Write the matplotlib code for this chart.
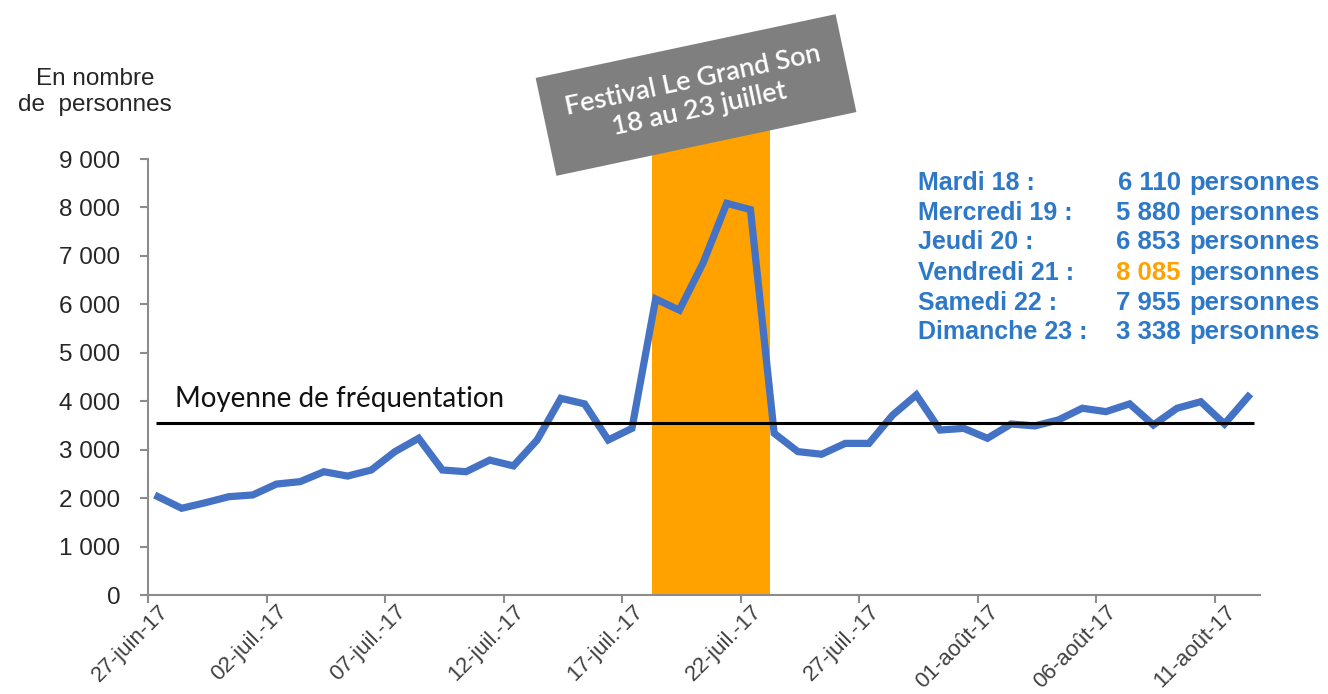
import numpy as np
import matplotlib
matplotlib.use("Agg")
import matplotlib.pyplot as plt
from matplotlib.ticker import FuncFormatter
import matplotlib.transforms as mtransforms

# frequentation journaliere, du 27 juin au 12 aout 2017
visiteurs = [2030, 1790, 1905, 2030, 2065, 2290, 2340, 2545, 2455, 2580,
             2960, 3235, 2580, 2545, 2785, 2665, 3200, 4060, 3945, 3200,
             3440, 6110, 5880, 6853, 8085, 7955, 3338, 2960, 2905, 3130,
             3130, 3715, 4130, 3405, 3440, 3235, 3530, 3490, 3615, 3855,
             3785, 3945, 3510, 3855, 3990, 3530, 4095]
moyenne = 3550
tick_labels = ["27-juin-17", "02-juil.-17", "07-juil.-17", "12-juil.-17",
               "17-juil.-17", "22-juil.-17", "27-juil.-17", "01-août-17",
               "06-août-17", "11-août-17"]
festival_debut = 21  # 18 juillet
festival_fin = 26    # 23 juillet
jours_festival = ["Mardi 18 :", "Mercredi 19 :", "Jeudi 20 :",
                  "Vendredi 21 :", "Samedi 22 :", "Dimanche 23 :"]
chiffres_festival = ["6 110", "5 880", "6 853", "8 085", "7 955", "3 338"]

bleu = "#4472C4"
bleu_txt = "#2E78C8"
orange = "#FFA200"
gris = "#8C8C8C"

W, H = 1328, 694
fig = plt.figure(figsize=(W / 100, H / 100), dpi=100)
ax = fig.add_axes([148 / W, 1 - 595 / H, (1260 - 148) / W, (595 - 159) / H])

x = np.arange(len(visiteurs))
ax.axvspan(festival_debut - 0.15, festival_fin - 0.17, ymin=0, ymax=10000 / 9000,
           color=orange, lw=0, clip_on=False, zorder=1)
ax.plot(x, visiteurs, color=bleu, lw=5.2, solid_joinstyle="miter", zorder=3)
ax.hlines(moyenne, -0.08, len(visiteurs) - 0.75, color="black", lw=2.2, zorder=4)
ax.text(0.7, moyenne + 230, "Moyenne de fréquentation", fontsize=20,
        family="Lato", color="#111111", va="bottom", ha="left")

ax.set_xlim(-0.42, len(visiteurs) - 0.5)
ax.set_ylim(0, 9000)
ax.set_yticks(np.arange(0, 9001, 1000))
ax.yaxis.set_major_formatter(FuncFormatter(lambda v, p: f"{int(v):,}".replace(",", " ")))
xt = np.arange(0, len(visiteurs), 5) - 0.4
ax.set_xticks(xt)
ax.set_xticklabels([])
# dates ecrites a la main, decalees vers la droite comme dans Excel
trans = mtransforms.blended_transform_factory(ax.transData, ax.transAxes) + \
    mtransforms.ScaledTranslation(10 / 100, -6 / 100, fig.dpi_scale_trans)
for pos, lab in zip(xt, tick_labels):
    ax.text(pos, 0, lab, transform=trans, rotation=45, ha="right", va="top",
            rotation_mode="anchor", fontsize=16, family="Liberation Sans",
            color="#404040", clip_on=False)
for lab in ax.get_yticklabels():
    lab.set_family("Liberation Sans")
    lab.set_fontsize(17.5)
    lab.set_color("#262626")

for s in ["top", "right"]:
    ax.spines[s].set_visible(False)
for s in ["left", "bottom"]:
    ax.spines[s].set_color(gris)
    ax.spines[s].set_linewidth(1.5)
ax.tick_params(axis="both", color=gris, width=1.5, length=6)
ax.tick_params(axis="y", pad=14)

fig.text(95 / W, 1 - 92 / H, "En nombre\nde  personnes", ha="center", va="center",
         fontsize=17.5, family="Liberation Sans", color="#262626", linespacing=1.2)

fig.text(696 / W, 1 - 95 / H, "Festival Le Grand Son\n18 au 23 juillet",
         rotation=12, ha="center", va="center", multialignment="center",
         fontsize=19.5, family="Lato", fontweight="semibold", color="white",
         linespacing=1.2, zorder=10,
         bbox=dict(boxstyle="square,pad=0.85", facecolor="#7F7F7F", edgecolor="none"))

rows_y = [183, 213, 242, 273, 303, 332]
for jour, chiffre, ry in zip(jours_festival, chiffres_festival, rows_y):
    yy = 1 - ry / H
    fig.text(918 / W, yy, jour, ha="left", va="center", fontsize=18,
             fontweight="bold", family="Liberation Sans", color=bleu_txt)
    fig.text(1181 / W, yy, chiffre, ha="right", va="center", fontsize=18.5,
             fontweight="bold", family="Liberation Sans",
             color=orange if chiffre == "8 085" else bleu_txt)
    fig.text(1189 / W, yy, "personnes", ha="left", va="center", fontsize=18.5,
             fontweight="bold", family="Liberation Sans", color=bleu_txt)

fig.savefig("out.png", dpi=100)
